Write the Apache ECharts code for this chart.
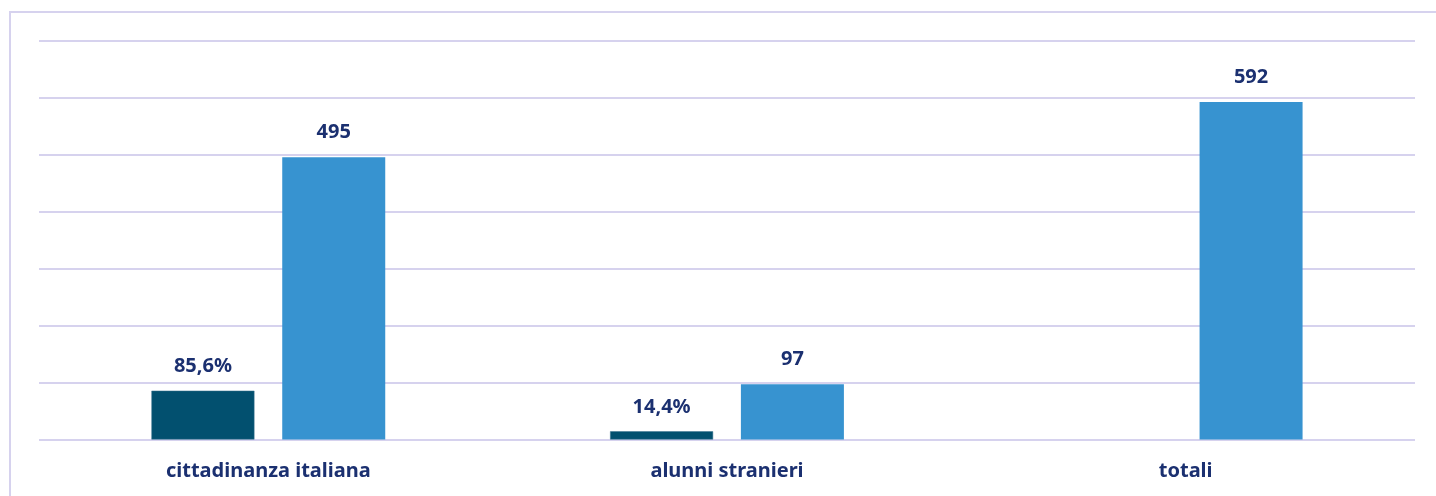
<!DOCTYPE html>
<html>
<head>
<meta charset="utf-8">
<script src="https://cdn.jsdelivr.net/npm/echarts@6/dist/echarts.min.js"></script>
<style>
  html, body { margin: 0; padding: 0; background: #ffffff; overflow: hidden; }
  #chart { width: 1436px; height: 496px; }
</style>
</head>
<body>
<div id="chart"></div>
<script>
// dati
var categories = ["cittadinanza italiana", "alunni stranieri", "totali"];
var percentValues = [85.6, 14.4, null];
var countValues = [495, 97, 592];

var axisMin = 0;
var axisMax = 700;
var axisStep = 100;

var gridColor = "#d6d2ee";
var textColor = "#1b3070";

var myChart = echarts.init(document.getElementById("chart"));
myChart.setOption({
  animation: false,
  textStyle: { fontFamily: "Noto Sans" },
  graphic: [
    {
      // cornice esterna (solo lato sinistro e superiore visibili)
      type: "polyline",
      shape: { points: [[10, 500], [10, 12], [1440, 12]] },
      style: { fill: null, stroke: gridColor, lineWidth: 2 },
      silent: true
    }
  ],
  grid: { left: 39, right: 21, top: 40.5, bottom: 56.5 },
  xAxis: {
    type: "category",
    data: categories,
    axisLine: { show: false },
    axisTick: { show: false },
    axisLabel: {
      color: textColor,
      fontSize: 20,
      fontWeight: "bold",
      margin: 22
    }
  },
  yAxis: {
    type: "value",
    min: axisMin,
    max: axisMax,
    interval: axisStep,
    axisLabel: { show: false },
    axisLine: { show: false },
    axisTick: { show: false },
    splitLine: { lineStyle: { color: gridColor, width: 2 } }
  },
  series: [
    {
      name: "percentuale",
      type: "bar",
      data: percentValues,
      barWidth: 103,
      barGap: "27%",
      itemStyle: { color: "#02506f", borderColor: "#3a7390", borderWidth: 0.5 },
      label: {
        show: true,
        position: "top",
        distance: 14,
        color: textColor,
        fontSize: 20,
        fontWeight: "bold",
        formatter: function (p) {
          if (p.value == null) return "";
          return p.value.toFixed(1).replace(".", ",") + "%";
        }
      }
    },
    {
      name: "numero",
      type: "bar",
      data: countValues,
      barWidth: 103,
      itemStyle: { color: "#3793d0" },
      label: {
        show: true,
        position: "top",
        distance: 15,
        color: textColor,
        fontSize: 20,
        fontWeight: "bold"
      }
    }
  ]
});
</script>
</body>
</html>
